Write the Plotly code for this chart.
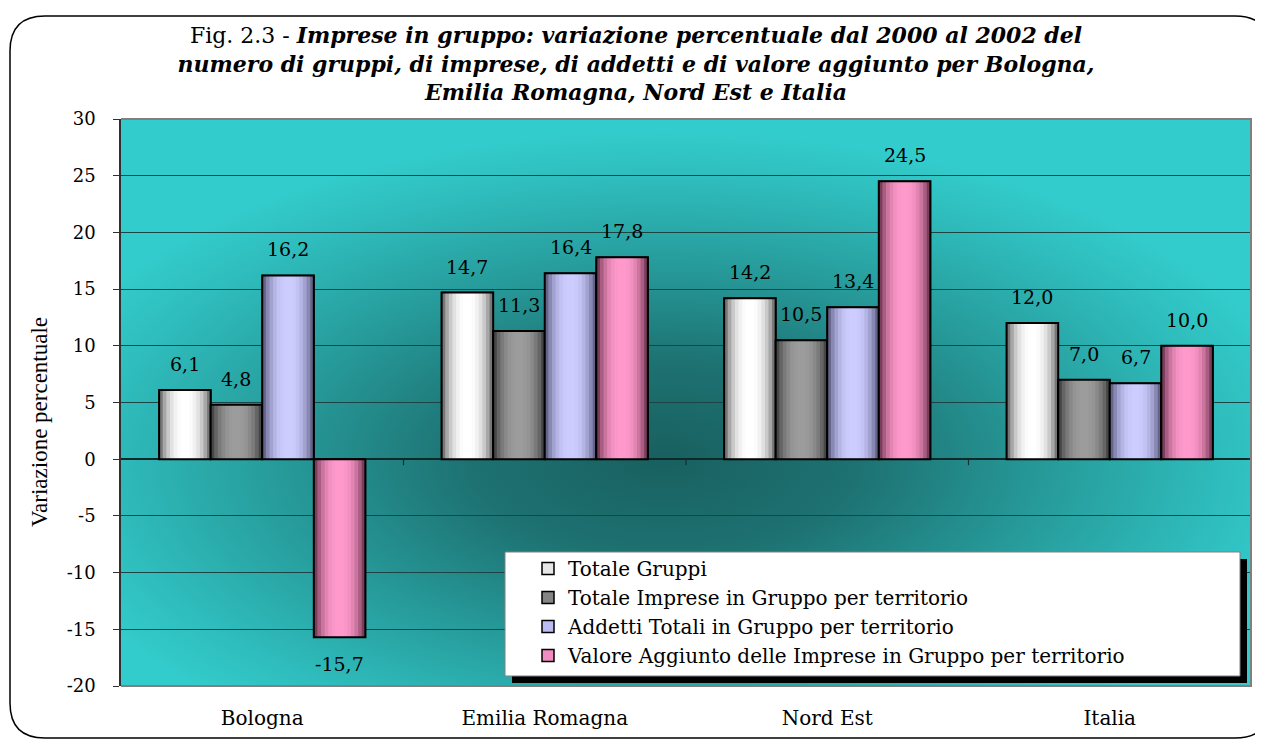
import base64
import plotly.graph_objects as go

# ---------------- data ----------------
categories = ["Bologna", "Emilia Romagna", "Nord Est", "Italia"]
series_names = [
    "Totale Gruppi",
    "Totale Imprese in Gruppo per territorio",
    "Addetti Totali in Gruppo per territorio",
    "Valore Aggiunto delle Imprese in Gruppo per territorio",
]
totale_gruppi = [6.1, 14.7, 14.2, 12.0]
totale_imprese = [4.8, 11.3, 10.5, 7.0]
addetti_totali = [16.2, 16.4, 13.4, 6.7]
valore_aggiunto = [-15.7, 17.8, 24.5, 10.0]
y_ticks = [-20, -15, -10, -5, 0, 5, 10, 15, 20, 25, 30]

title_text = ("Fig. 2.3 - <b><i>Imprese in gruppo: variazione percentuale dal 2000 al 2002 del</i></b><br>"
              "<b><i>numero di gruppi, di imprese, di addetti e di valore aggiunto per Bologna,</i></b><br>"
              "<b><i>Emilia Romagna, Nord Est e Italia</i></b>")
y_title = "Variazione percentuale"

all_series = [totale_gruppi, totale_imprese, addetti_totali, valore_aggiunto]

# ---------------- styles ----------------
edge_cols = ["#777777", "#474747", "#64648a", "#7a3d5a"]
center_cols = ["#ffffff", "#9c9c9c", "#ccccff", "#ff99cc"]
legend_cols = ["#e6e6e6", "#858585", "#bcbcf2", "#f08cbf"]

OFF = 8  # page body margin
W, H = 1263, 739
L = 121 - OFF
T = 119 - OFF
R = W - (1251 - OFF)
B = H - (686 - OFF)
PW, PH = W - L - R, H - T - B


def px_x(px_ref):
    return (px_ref - OFF - L) / PW


def px_y(py_ref):
    return (H - B - (py_ref - OFF)) / PH


def mix(c1, c2, t):
    a = [int(c1[i:i + 2], 16) for i in (1, 3, 5)]
    b = [int(c2[i:i + 2], 16) for i in (1, 3, 5)]
    return "#" + "".join(f"{round(a[k] + (b[k] - a[k]) * t):02x}" for k in range(3))


group_w = 0.73
bw = group_w / 4
layer_frac = [1.0, 0.86, 0.72, 0.58, 0.44, 0.30, 0.16]
layer_t = [0.0, 0.35, 0.6, 0.78, 0.9, 0.97, 1.0]

fig = go.Figure()
for s, (name, vals) in enumerate(zip(series_names, all_series)):
    c_off = (-1.5 + s) * bw
    fig.add_trace(go.Bar(
        x=categories, y=vals, name=name, width=bw, offset=c_off - bw / 2,
        marker=dict(color=legend_cols[s], line=dict(color="black", width=1.5)),
        legendgroup=name, hoverinfo="skip"))
    for f, t in zip(layer_frac, layer_t):
        fig.add_trace(go.Bar(
            x=categories, y=vals, width=bw * f, offset=c_off - bw * f / 2,
            marker=dict(color=mix(edge_cols[s], center_cols[s], t), line=dict(width=0)),
            showlegend=False, legendgroup=name, hoverinfo="skip"))
    fig.add_trace(go.Bar(
        x=categories, y=vals, width=bw, offset=c_off - bw / 2,
        marker=dict(color="rgba(0,0,0,0)", line=dict(color="black", width=2)),
        showlegend=False, legendgroup=name, hoverinfo="skip"))

# data labels
annotations = []
for s, vals in enumerate(all_series):
    c_off = (-1.5 + s) * bw
    for i, v in enumerate(vals):
        annotations.append(dict(
            x=i + c_off, y=v, xref="x", yref="y", showarrow=False,
            xanchor="center", yanchor="middle",
            text=f"{v:.1f}".replace(".", ","), yshift=26 if v >= 0 else -27,
            font=dict(family="DejaVu Serif", size=19, color="black")))

annotations.append(dict(
    x=px_x(39), y=px_y(422), xref="paper", yref="paper", showarrow=False,
    xanchor="center", yanchor="middle",
    text=y_title, textangle=-90,
    font=dict(family="Liberation Serif", size=23, color="black")))

# radial background gradient
svg = f"""<svg xmlns='http://www.w3.org/2000/svg' width='{PW}' height='{PH}' viewBox='0 0 {PW} {PH}' preserveAspectRatio='none'>
<defs><radialGradient id='g' cx='0.48' cy='0.6' r='0.58' gradientUnits='objectBoundingBox'>
<stop offset='0' stop-color='#196060'/>
<stop offset='0.3' stop-color='#1e7272'/>
<stop offset='0.6' stop-color='#279c9c'/>
<stop offset='0.85' stop-color='#2fbcbc'/>
<stop offset='1' stop-color='#33cccc'/>
</radialGradient></defs>
<rect x='0' y='0' width='{PW}' height='{PH}' fill='#33cccc'/>
<rect x='0' y='0' width='{PW}' height='{PH}' fill='url(#g)'/>
</svg>"""
bg_src = "data:image/svg+xml;base64," + base64.b64encode(svg.encode()).decode()

shapes = []
# outer rounded frame
xl, xr, yt, yb = px_x(10), px_x(1270), px_y(16), px_y(738)
rx, ry = 35 / PW, 35 / PH
frame = (f"M {xl},{yt - ry} Q {xl},{yt} {xl + rx},{yt} L {xr - rx},{yt} Q {xr},{yt} {xr},{yt - ry} "
         f"L {xr},{yb + ry} Q {xr},{yb} {xr - rx},{yb} L {xl + rx},{yb} Q {xl},{yb} {xl},{yb + ry} Z")
shapes.append(dict(type="path", path=frame, xref="paper", yref="paper",
                   line=dict(color="black", width=1.5), layer="above"))
# plot area border (top, right, bottom)
shapes.append(dict(type="path", path="M 0,1 L 1,1 L 1,0 L 0,0", xref="paper", yref="paper",
                   line=dict(color="#808080", width=2), layer="above"))
# category tick marks on zero line
for k in range(len(categories) - 1):
    shapes.append(dict(type="line", xref="x", yref="y", x0=k + 0.5, x1=k + 0.5,
                       ysizemode="pixel", yanchor=0, y0=0, y1=-6,
                       line=dict(color="#1a3030", width=1.2), layer="above"))
# legend box with shadow
shapes.append(dict(type="rect", xref="paper", yref="paper",
                   x0=px_x(512), x1=px_x(1247), y0=px_y(683), y1=px_y(559),
                   fillcolor="black", line=dict(width=0), layer="above"))
shapes.append(dict(type="rect", xref="paper", yref="paper",
                   x0=px_x(505), x1=px_x(1240), y0=px_y(676), y1=px_y(552),
                   fillcolor="white", line=dict(color="#808080", width=1), layer="above"))

fig.update_layout(
    width=W, height=H,
    margin=dict(l=L, r=R, t=T, b=B),
    paper_bgcolor="white", plot_bgcolor="rgba(0,0,0,0)",
    barmode="overlay",
    title=dict(text=title_text, x=(636 - OFF) / W, xref="container", xanchor="center",
               y=1 - (43 - OFF) / H, yref="container", yanchor="top",
               font=dict(family="DejaVu Serif", size=22, color="black")),
    xaxis=dict(type="category", categoryorder="array", categoryarray=categories,
               range=[-0.5, len(categories) - 0.5], showgrid=False, zeroline=False,
               ticks="", showline=False, ticklabelstandoff=18,
               tickfont=dict(family="DejaVu Serif", size=20, color="black")),
    yaxis=dict(range=[-20, 30], tickvals=y_ticks, ticktext=[str(v) for v in y_ticks],
               showgrid=True, gridcolor="#1d4444", gridwidth=1,
               zeroline=True, zerolinecolor="#102828", zerolinewidth=1.5,
               showline=True, linecolor="#303030", linewidth=1.5,
               ticks="outside", ticklen=6, tickcolor="#303030", ticklabelstandoff=14,
               tickfont=dict(family="DejaVu Serif", size=18, color="black")),
    legend=dict(x=px_x(528), y=px_y(549), xanchor="left", yanchor="top",
                bgcolor="rgba(0,0,0,0)", borderwidth=0, tracegroupgap=0,
                font=dict(family="DejaVu Serif", size=20, color="black")),
    images=[dict(source=bg_src, xref="paper", yref="paper", x=0, y=1, sizex=1, sizey=1,
                 sizing="stretch", xanchor="left", yanchor="top", layer="below")],
    shapes=shapes,
    annotations=annotations,
    showlegend=True,
)

fig.write_html("out.html")
